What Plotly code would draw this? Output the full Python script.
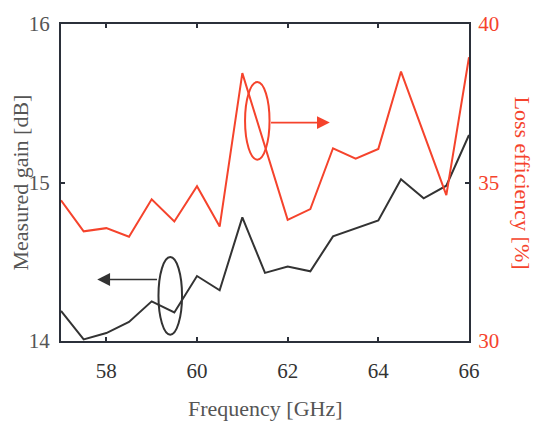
import plotly.graph_objects as go

freq = [57, 57.5, 58, 58.5, 59, 59.5, 60, 60.5, 61, 61.5, 62, 62.5, 63, 63.5, 64, 64.5, 65, 65.5, 66]
gain_db = [14.19, 14.01, 14.05, 14.12, 14.25, 14.18, 14.41, 14.32, 14.78, 14.43, 14.47, 14.44,
           14.66, 14.71, 14.76, 15.02, 14.90, 14.98, 15.30]
loss_eff = [34.44, 33.46, 33.56, 33.29, 34.47, 33.77, 34.88, 33.61, 38.45, 36.13, 33.82, 34.16,
            36.08, 35.75, 36.06, 38.50, 36.55, 34.60, 38.95]

x_ticks = [58, 60, 62, 64, 66]
y1_ticks = [14, 15, 16]
y2_ticks = [30, 35, 40]

BLACK = "#333333"
RED = "#f5432c"
AXIS = "#2b303a"
FONT = "Liberation Serif"
TICK_SIZE = 21
TITLE_SIZE = 22

fig = go.Figure()
fig.add_trace(go.Scatter(x=freq, y=gain_db, mode="lines", line=dict(color=BLACK, width=2),
                         showlegend=False, yaxis="y"))
fig.add_trace(go.Scatter(x=freq, y=loss_eff, mode="lines", line=dict(color=RED, width=2),
                         showlegend=False, yaxis="y2"))

# ellipses
fig.add_shape(type="circle", xref="x", yref="y", x0=59.15, x1=59.67, y0=14.04, y1=14.53,
              line=dict(color=BLACK, width=2))
fig.add_shape(type="circle", xref="x", yref="y2", x0=61.06, x1=61.6, y0=35.72, y1=38.17,
              line=dict(color=RED, width=2))

# arrows
fig.add_annotation(x=57.8, y=14.388, ax=59.15, ay=14.388, xref="x", yref="y", axref="x", ayref="y",
                   text="", showarrow=True, arrowhead=2, arrowsize=1.6, arrowwidth=1.6, arrowcolor=BLACK)
fig.add_annotation(x=62.93, y=36.89, ax=61.6, ay=36.89, xref="x", yref="y2", axref="x", ayref="y2",
                   text="", showarrow=True, arrowhead=2, arrowsize=1.6, arrowwidth=1.6, arrowcolor=RED)

# axis titles
fig.add_annotation(x=0.5, y=0.0, xref="paper", yref="paper", xanchor="center", yanchor="middle",
                   yshift=-67, text="Frequency [GHz]", showarrow=False,
                   font=dict(family=FONT, size=TITLE_SIZE, color="#555555"))
fig.add_annotation(x=0.0, y=0.5, xref="paper", yref="paper", xanchor="center", yanchor="middle",
                   xshift=-41, text="Measured gain [dB]", textangle=-90, showarrow=False,
                   font=dict(family=FONT, size=TITLE_SIZE, color="#555555"))
fig.add_annotation(x=1.0, y=0.5, xref="paper", yref="paper", xanchor="center", yanchor="middle",
                   xshift=53, text="Loss efficiency [%]", textangle=90, showarrow=False,
                   font=dict(family=FONT, size=TITLE_SIZE, color=RED))

fig.update_layout(
    width=540, height=424,
    margin=dict(l=61, r=71, t=21, b=83),
    paper_bgcolor="white", plot_bgcolor="white",
    font=dict(family=FONT, size=TICK_SIZE, color="#444444"),
    xaxis=dict(range=[57, 66], tickvals=x_ticks, ticks="inside", ticklen=4, tickwidth=1.5,
               tickcolor=AXIS, showline=True, linecolor=AXIS, linewidth=2, mirror="ticks",
               showgrid=False, zeroline=False, ticklabelstandoff=10,
               tickfont=dict(family=FONT, size=TICK_SIZE, color="#333333")),
    yaxis=dict(range=[14, 16], tickvals=y1_ticks, ticks="inside", ticklen=4, tickwidth=1.5,
               tickcolor=AXIS, showline=True, linecolor=AXIS, linewidth=2,
               showgrid=False, zeroline=False, ticklabelstandoff=5,
               tickfont=dict(family=FONT, size=TICK_SIZE, color="#555555")),
    yaxis2=dict(range=[30, 40], tickvals=y2_ticks, overlaying="y", side="right", ticks="inside",
                ticklen=4, tickwidth=1.5, tickcolor=AXIS, showline=True, linecolor=AXIS, linewidth=2,
                showgrid=False, zeroline=False, ticklabelstandoff=3,
                tickfont=dict(family=FONT, size=TICK_SIZE, color=RED)),
)

fig.write_html("out.html")
